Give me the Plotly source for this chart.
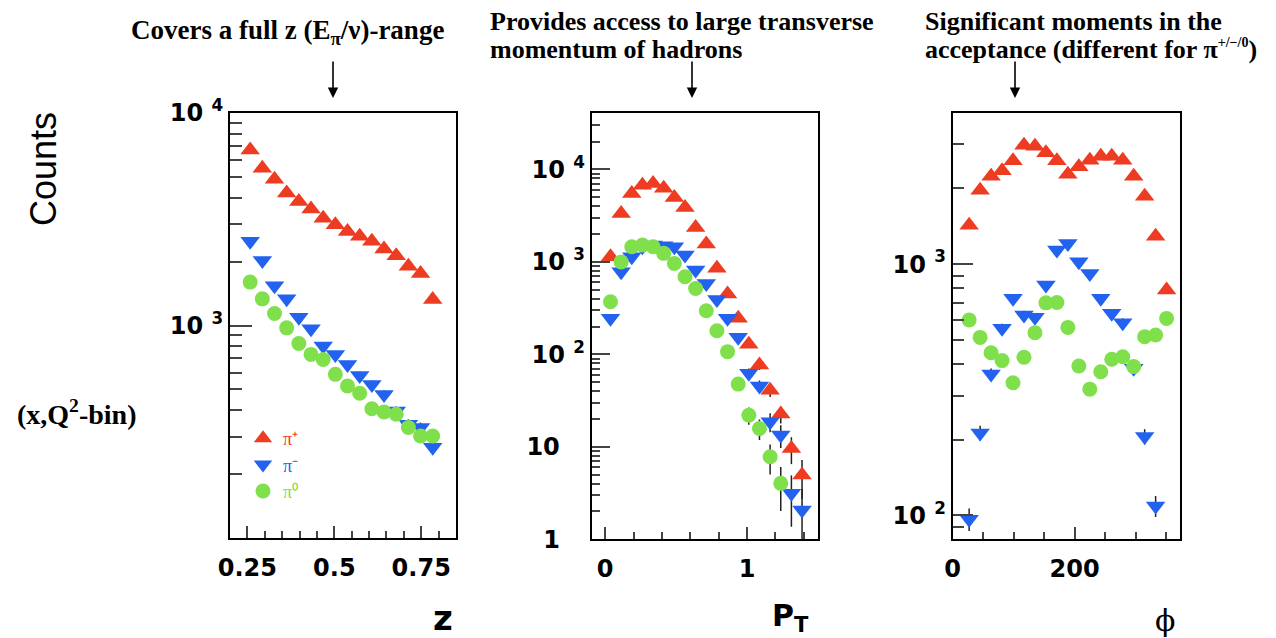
import plotly.graph_objects as go

W, H = 1276, 638

# ---------------- data ----------------
# panel 1: z
z_bins = [0.258, 0.293, 0.328, 0.363, 0.398, 0.433, 0.468, 0.503,
          0.538, 0.573, 0.608, 0.643, 0.678, 0.713, 0.748, 0.783]
z_pip = [6700, 5500, 4880, 4200, 3830, 3530, 3200, 2980,
         2770, 2630, 2490, 2290, 2130, 1900, 1755, 1325]
z_pim = [2490, 2025, 1540, 1335, 1094, 965, 800, 731,
         656, 582, 528, 474, 396, 343, 331, 267]
z_pi0 = [1600, 1335, 1138, 975, 823, 731, 692, 589,
         519, 480, 406, 392, 382, 331, 302, 302]

# panel 2: PT
pt_bins = [0.0375, 0.1125, 0.1875, 0.2625, 0.3375, 0.4125, 0.4875, 0.5625,
           0.6375, 0.7125, 0.7875, 0.8625, 0.9375, 1.0125, 1.0875, 1.1625,
           1.2375, 1.3125, 1.3875]
pt_pip = [1135, 3340, 5500, 6760, 7060, 6240, 4980, 3880, 2360, 1557,
          851, 449, 245, 129, 76.6, 41, 22.6, 9.6, 4.96]
pt_pim = [245, 782, 1135, 1457, 1520, 1494, 1457, 1186, 815, 585,
          393, 245, 153, 62.3, 45.4, 18.7, 13.4, 3.14, 2.07]
pt_pi0 = [370, 1000, 1457, 1520, 1457, 1236, 963, 690, 516, 296,
          180, 107, 47.7, 22, 15.8, 7.8, 4.03]

# panel 3: phi
phi_bins = [27, 45, 63, 81, 99, 117, 135, 153, 171, 189,
            207, 225, 243, 261, 279, 297, 315, 333, 351]
phi_pip = [1429, 1968, 2238, 2350, 2576, 2974, 2944, 2772, 2576, 2280,
           2437, 2592, 2687, 2687, 2592, 2238, 1863, 1292, 789]
phi_pim = [96.6, 213, 365, 555, 731, 627, 614, 825, 1137, 1209,
           1021, 918, 731, 637, 584, 385, 206, 109, None]
phi_pi0 = [599, 511, 444, 413, 337, 426, 533, 701, 703, 560,
           393, 318, 373, 418, 428, 391, 514, 522, 608]

RED, BLUE, GREEN = "#ee3c22", "#2262ee", "#80e04c"
names = ['<span style="color:%s">π⁺</span>' % RED,
         '<span style="color:%s">π⁻</span>' % BLUE,
         '<span style="color:%s">π⁰</span>' % GREEN]
symbols = ["triangle-up", "triangle-down", "circle"]
colors = [RED, BLUE, GREEN]
sizes = [17, 17, 15]


def errs(vals):
    return [None if v is None else v ** 0.5 for v in vals]


fig = go.Figure()
panels = [(z_bins, [z_pip, z_pim, z_pi0], "x", "y"),
          (pt_bins, [pt_pip, pt_pim, pt_pi0], "x2", "y2"),
          (phi_bins, [phi_pip, phi_pim, phi_pi0], "x3", "y3")]
for pi, (xs, series, xa, ya) in enumerate(panels):
    for k, vals in enumerate(series):
        fig.add_trace(go.Scatter(
            x=xs[:len(vals)], y=vals, mode="markers", xaxis=xa, yaxis=ya,
            name=names[k], showlegend=(pi == 0),
            marker=dict(symbol=symbols[k], size=sizes[k], color=colors[k],
                        line=dict(width=0)),
            error_y=dict(type="data", array=errs(vals), visible=True,
                         color="#222222", thickness=1.5, width=0),
        ))


def px(x):
    return x / W


def py(y):
    return 1 - y / H


TICKFONT = dict(family="DejaVu Sans", size=24, color="black", weight="bold")
AX = dict(showline=True, linewidth=2, linecolor="black", mirror=True,
          ticks="inside", tickcolor="#444444", tickwidth=1.5, automargin=False,
          showgrid=False, zeroline=False, tickfont=TICKFONT)

frames = [(230, 456, 113, 538), (591.7, 818, 113, 539.3), (952.7, 1180, 113.3, 539.3)]

layout = dict(
    width=W, height=H, autosize=False,
    margin=dict(l=0, r=0, t=0, b=0, pad=0),
    paper_bgcolor="white", plot_bgcolor="white",
    showlegend=True,
    legend=dict(x=px(243), y=py(420), xanchor="left", yanchor="top",
                bgcolor="rgba(0,0,0,0)", borderwidth=0,
                font=dict(family="Liberation Serif", size=18),
                itemsizing="trace", tracegroupgap=0, itemwidth=30),
)

XMINOR = dict(ticks="inside", ticklen=7, tickcolor="#444444", tickwidth=1.5, tickmode="array")
# x axes
layout["xaxis"] = dict(AX, domain=[px(frames[0][0]), px(frames[0][1])], anchor="y",
                       range=[0.2, 0.85], tickmode="array",
                       tickvals=[0.25, 0.5, 0.75], ticktext=["0.25", "0.5", "0.75"],
                       ticklen=12, ticklabelstandoff=7,
                       minor=dict(XMINOR, tickvals=[0.3, 0.35, 0.4, 0.45, 0.55, 0.6, 0.65, 0.7, 0.8]))
layout["xaxis2"] = dict(AX, domain=[px(frames[1][0]), px(frames[1][1])], anchor="y2",
                        range=[-0.095, 1.5], tickmode="array",
                        tickvals=[0, 1], ticktext=["0", "1"],
                        ticklen=12, ticklabelstandoff=7,
                        minor=dict(XMINOR, tickvals=[0.2, 0.4, 0.6, 0.8, 1.2, 1.4]))
layout["xaxis3"] = dict(AX, domain=[px(frames[2][0]), px(frames[2][1])], anchor="y3",
                        range=[0, 373], tickmode="array",
                        tickvals=[0, 200], ticktext=["0", "200"],
                        ticklen=12, ticklabelstandoff=7,
                        minor=dict(XMINOR, tickvals=[50, 100, 150, 250, 300, 350]))

# y axes
dec = [2, 3, 4, 5, 6, 7, 8, 9]
layout["yaxis"] = dict(AX, domain=[py(frames[0][3]), py(frames[0][2])], anchor="x",
                       type="log", range=[2, 4], tickmode="array",
                       tickvals=[1000, 10000], ticktext=["10 <sup>3</sup>", "10 <sup>4</sup>"],
                       ticklen=22, ticklabelstandoff=0,
                       minor=dict(tickmode="array",
                                  tickvals=[d * 100 for d in dec] + [d * 1000 for d in dec],
                                  ticks="inside", ticklen=12, tickcolor="#444444", tickwidth=1.5))
layout["yaxis2"] = dict(AX, domain=[py(frames[1][3]), py(frames[1][2])], anchor="x2",
                        type="log", range=[0, 4.61], tickmode="array",
                        tickvals=[1, 10, 100, 1000, 10000],
                        ticktext=["1\u00a0\u00a0\u00a0", "10\u00a0\u00a0\u00a0", "10 <sup>2</sup>",
                                  "10 <sup>3</sup>", "10 <sup>4</sup>"],
                        ticklen=18, ticklabelstandoff=0,
                        minor=dict(tickmode="array",
                                   tickvals=[d for d in dec] + [d * 10 for d in dec] +
                                   [d * 100 for d in dec] + [d * 1000 for d in dec] + [20000, 30000],
                                   ticks="inside", ticklen=8, tickcolor="#444444", tickwidth=1.5))
layout["yaxis3"] = dict(AX, domain=[py(frames[2][3]), py(frames[2][2])], anchor="x3",
                        type="log", range=[1.905, 3.6], tickmode="array",
                        tickvals=[100, 1000], ticktext=["10 <sup>2</sup>", "10 <sup>3</sup>"],
                        ticklen=20, ticklabelstandoff=0,
                        minor=dict(tickmode="array",
                                   tickvals=[90] + [d * 100 for d in dec] + [2000, 3000],
                                   ticks="inside", ticklen=11, tickcolor="#444444", tickwidth=1.5))

SERIF_B = dict(family="Liberation Serif", size=26, color="black", weight="bold")
ann = []


def text(t, x, y, font, xanchor="center", **kw):
    ann.append(dict(text=t, x=px(x), y=py(y), xref="paper", yref="paper",
                    xanchor=xanchor, yanchor="middle", showarrow=False, font=font, **kw))


text("Covers a full z (E<sub>π</sub>/ν)-range", 287, 32, dict(SERIF_B, size=27))
text("Provides access to large transverse", 488, 22, SERIF_B, xanchor="left")
text("momentum of hadrons", 488, 50, SERIF_B, xanchor="left")
text("Significant moments in the", 923, 22, SERIF_B, xanchor="left")
text('acceptance (different for π<sup><span style="font-size:14px">+/−/0</span></sup>)',
     923, 50, SERIF_B, xanchor="left")

text("Counts", 43, 169, dict(family="Liberation Sans", size=36, color="black"), textangle=-90)
text("(x,Q<sup>2</sup>-bin)", 76, 412, dict(family="Liberation Serif", size=28, color="black", weight="bold"))

text("z", 443, 618, dict(family="DejaVu Sans", size=34, color="black", weight="bold"))
text("P<sub>T</sub>", 790, 617, dict(family="DejaVu Sans", size=30, color="black", weight="bold"))
text("ϕ", 1165, 620, dict(family="DejaVu Serif", size=30, color="black"))

for ax_x in (333, 692, 1015):
    ann.append(dict(text="", x=px(ax_x), y=py(98), xref="paper", yref="paper",
                    showarrow=True, ax=0, ay=-38, arrowhead=2, arrowsize=1.3,
                    arrowwidth=1.6, arrowcolor="black"))

layout["annotations"] = ann
fig.update_layout(**layout)
fig.write_html("out.html", config={"displayModeBar": False},
               post_script="document.body.style.margin='0';document.body.style.overflow='hidden';")
